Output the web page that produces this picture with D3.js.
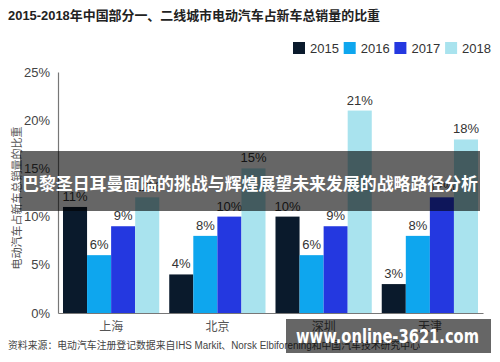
<!DOCTYPE html>
<html>
<head>
<meta charset="utf-8">
<script src="https://cdn.jsdelivr.net/npm/d3@7"></script>
<style>
  body { margin: 0; background: #fff; }
  svg { display: block; font-family: "Liberation Sans", "Noto Sans CJK SC", sans-serif; }
</style>
</head>
<body>
<script>
var cities = ["上海", "北京", "深圳", "天津"];
var years = ["2015", "2016", "2017", "2018"];
var v2015 = [11, 4, 10, 3];
var v2016 = [6, 8, 6, 8];
var v2017 = [9, 10, 9, 12];
var v2018 = [12, 15, 21, 18];
var yTicks = [0, 5, 10, 15, 20, 25];

var colors = ["#0a1a2c", "#0ea6ee", "#2438e0", "#a9e3ee"];
var series = [v2015, v2016, v2017, v2018];

var width = 500, height = 362;

var svg = d3.select("body").append("svg")
  .attr("width", width).attr("height", height);

// title
svg.append("text")
  .attr("x", 8).attr("y", 20)
  .attr("font-size", "13px").attr("font-weight", "bold").attr("fill", "#222")
  .attr("textLength", 372).attr("lengthAdjust", "spacingAndGlyphs")
  .text("2015-2018年中国部分一、二线城市电动汽车占新车总销量的比重");

// legend
var legend = svg.selectAll(".leg").data(years).enter().append("g")
  .attr("transform", function(d, i) { return "translate(" + (293 + i * 50.7) + ",42)"; });
legend.append("rect").attr("width", 12).attr("height", 12)
  .attr("fill", function(d, i) { return colors[i]; });
legend.append("text").attr("x", 17).attr("y", 11)
  .attr("font-size", "13px").attr("fill", "#333")
  .text(function(d) { return d; });

var x0 = d3.scaleBand().domain(cities).range([58, 483]).paddingInner(0.094).paddingOuter(0.047);
var x1 = d3.scaleBand().domain(years).range([0, x0.bandwidth()]);
var y = d3.scaleLinear().domain([0, 25]).range([313, 72]);

// y axis
var ya = svg.append("g").attr("transform", "translate(58,0)")
  .call(d3.axisLeft(y).tickValues(yTicks).tickSize(0).tickPadding(8)
    .tickFormat(function(d) { return d + "%"; }));
ya.select(".domain").attr("stroke", "#777").attr("stroke-width", 1.2);
ya.selectAll("text").attr("font-size", "13px").attr("fill", "#444")
  .attr("font-family", "Liberation Sans, sans-serif");

// y label
svg.append("text")
  .attr("transform", "translate(21,198) rotate(-90)")
  .attr("text-anchor", "middle").attr("font-size", "11px").attr("fill", "#555")
  .text("电动汽车占新车总销量的比重");

// bars
var groups = svg.selectAll(".grp").data(cities).enter().append("g")
  .attr("transform", function(d) { return "translate(" + x0(d) + ",0)"; });

groups.each(function(c, ci) {
  var g = d3.select(this);
  years.forEach(function(yr, si) {
    var v = series[si][ci];
    g.append("rect")
      .attr("x", x1(yr)).attr("width", x1.bandwidth())
      .attr("y", y(v)).attr("height", y(0) - y(v))
      .attr("fill", colors[si]);
    g.append("text")
      .attr("x", x1(yr) + x1.bandwidth() / 2).attr("y", y(v) - 6)
      .attr("text-anchor", "middle").attr("font-size", "13px").attr("fill", "#333")
      .text(v + "%");
  });
});

// x axis
var xa = svg.append("g").attr("transform", "translate(0,313)")
  .call(d3.axisBottom(x0).tickSize(0).tickPadding(9).tickSizeOuter(0));
xa.select(".domain").attr("stroke", "#777").attr("stroke-width", 1.2);
xa.selectAll("text").attr("font-size", "12px").attr("fill", "#555")
  .attr("font-family", "Noto Sans CJK SC, sans-serif");

// source
svg.append("text")
  .attr("x", 8).attr("y", 349)
  .attr("font-size", "10px").attr("fill", "#444")
  .attr("textLength", 412).attr("lengthAdjust", "spacingAndGlyphs")
  .text("资料来源：电动汽车注册登记数据来自IHS Markit、Norsk Elbiforening和中国汽车技术研究中心");

// overlay banner
svg.append("rect")
  .attr("x", 20).attr("y", 151).attr("width", 460).attr("height", 60)
  .attr("fill", "#000").attr("fill-opacity", 0.6);
svg.append("text")
  .attr("x", 22).attr("y", 190)
  .attr("font-size", "17px").attr("font-weight", "bold")
  .attr("textLength", 456).attr("lengthAdjust", "spacingAndGlyphs")
  .attr("fill", "#fff").attr("font-family", "Noto Sans CJK SC, sans-serif")
  .text("巴黎圣日耳曼面临的挑战与辉煌展望未来发展的战略路径分析");

// watermark
svg.append("rect")
  .attr("x", 286).attr("y", 319).attr("width", 205).attr("height", 34)
  .attr("fill", "#000").attr("fill-opacity", 0.6);
svg.append("text")
  .attr("x", 296).attr("y", 343)
  .attr("font-size", "19px").attr("font-weight", "bold")
  .attr("textLength", 183).attr("lengthAdjust", "spacingAndGlyphs")
  .attr("fill", "#fff").attr("font-family", "DejaVu Sans, sans-serif")
  .text("www.online-3621.com");
</script>
</body>
</html>
